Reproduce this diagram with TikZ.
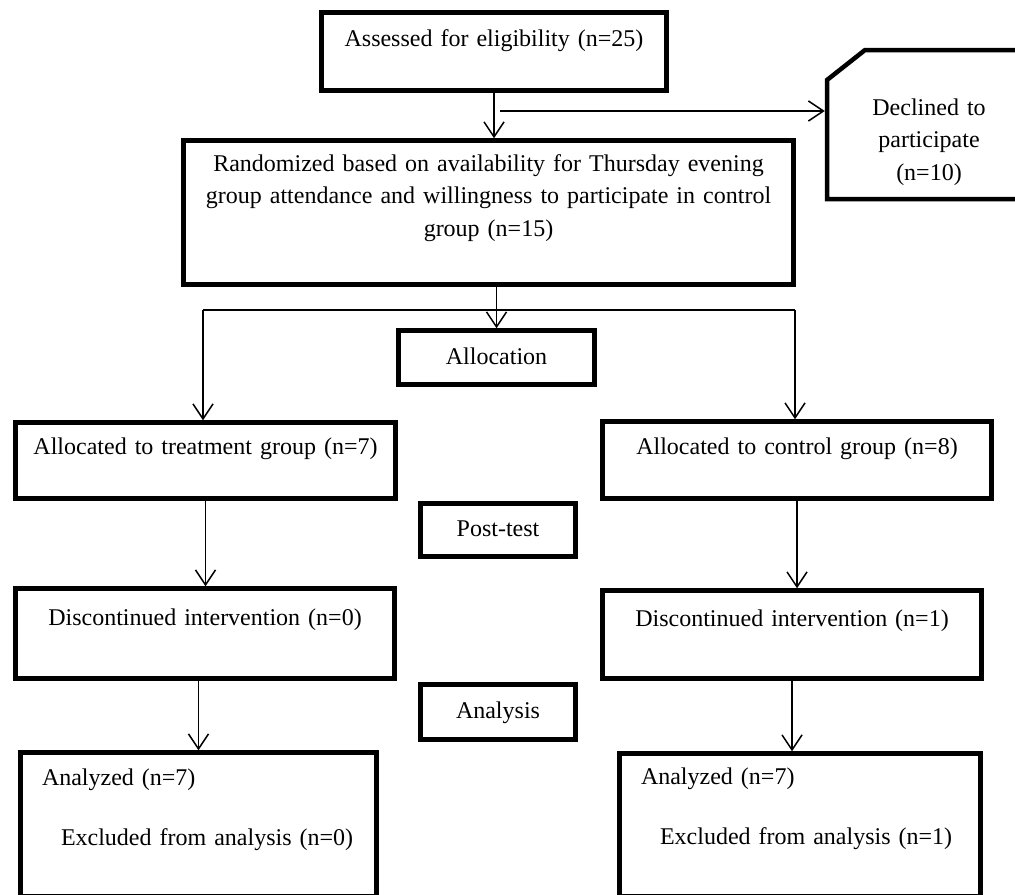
\documentclass[tikz,border=0pt]{standalone}
\usepackage{fontspec}
\setmainfont{Liberation Serif}
\usepackage{xcolor}
\usetikzlibrary{arrows.meta}

\begin{document}
\begin{tikzpicture}[x=0.5pt, y=-0.5pt]
        % ================= 样式定义 =================
        \tikzset{
            % 普通流程框:粗边框,文字居中
            block/.style={draw=black, line width=2.25pt, fill=white, inner sep=0pt, align=center, font=\fontsize{12}{16.25}\selectfont},
            % 切角框的文字部分(边框另画)
            cutblock/.style={block, draw=none, fill=none, outer sep=0pt},
            % 切角框的边框
            cutline/.style={draw=black, line width=2.25pt, line join=miter},
            % 文字左对齐的框
            leftblock/.style={block, align=left, inner xsep=10.75pt},
            % 带箭头的连线
            flow/.style={line width=0.75pt, black, -{Straight Barb[length=7.5pt, width=10pt]}},
            % 不带箭头的连线
            plainline/.style={line width=0.75pt, black}
        }

        \useasboundingbox (0,0) rectangle (1015,894);

        % ================= 1. 筛选与随机化 =================
        \node[block, text width=172.5pt, text height=16.75pt, text depth=22.25pt] (assess) at (494, 51.5) {Assessed for eligibility (n=25)};
        \node[block, text width=305pt, text height=15.25pt, text depth=56.75pt] (random) at (488.5, 212.5) {Randomized based on availability for Thursday evening\\group attendance and willingness to participate in control\\group (n=15)};
        \node[cutblock, text width=102pt, text height=32.5pt, text depth=42pt] (declined) at (929, 124.5) {Declined to\\participate\\(n=10)};
        % 左上角切掉一块
        \draw[cutline] (declined.south east) -- (declined.south west) -- ([yshift=-15pt]declined.north west) -- ([xshift=19pt]declined.north west) -- (declined.north east) -- cycle;

        % ================= 2. 分组 =================
        \node[block, text width=98pt, text height=16.75pt, text depth=10.25pt] (alloc) at (496.5, 357.5) {Allocation};
        \node[block, text width=190pt, text height=15.75pt, text depth=22.25pt] (treat) at (205.5, 460.5) {Allocated to treatment group (n=7)};
        \node[block, text width=194.5pt, text height=16.25pt, text depth=22.25pt] (ctrl) at (797, 460) {Allocated to control group (n=8)};

        % ================= 3. 后测 =================
        \node[block, text width=77.5pt, text height=16.25pt, text depth=10.25pt] (post) at (498, 530) {Post-test};
        \node[block, text width=189.5pt, text height=18.25pt, text depth=26.75pt] (discL) at (205, 633.5) {Discontinued intervention (n=0)};
        \node[block, text width=189.5pt, text height=17.75pt, text depth=26.25pt] (discR) at (792, 634.5) {Discontinued intervention (n=1)};

        % ================= 4. 分析 =================
        \node[block, text width=77.5pt, text height=16.75pt, text depth=10.75pt] (analysis) at (498, 712) {Analysis};
        \node[leftblock, text width=156.5pt, text height=16.25pt, text depth=55.5pt] (anaL) at (198.5, 824.25) {Analyzed (n=7)\\[13.75pt]\hspace*{9.5pt}Excluded from analysis (n=0)};
        \node[leftblock, text width=159pt, text height=15.25pt, text depth=56pt] (anaR) at (800, 824.75) {Analyzed (n=7)\\[13.75pt]\hspace*{9.5pt}Excluded from analysis (n=1)};

        % ================= 5. 连线 =================
        \coordinate (split) at (500, 111);
        \coordinate (forkL) at (203, 310);
        \coordinate (forkR) at (795, 310);

        \draw[flow] (assess.south) -- (assess.south |- random.north);
        \draw[flow] (split) -- ([xshift=-1.125pt]split -| declined.west);

        \draw[flow] (alloc.north |- random.south) -- (alloc.north);
        \draw[plainline] (forkL) -- (forkR);
        \draw[flow] (forkL) -- (forkL |- treat.north);
        \draw[flow] (forkR) -- (forkR |- ctrl.north);

        \draw[flow] (treat.south) -- (treat.south |- discL.north);
        \draw[flow] (ctrl.south) -- (ctrl.south |- discR.north);

        \draw[flow] (anaL.north |- discL.south) -- (anaL.north);
        \draw[flow] (discR.south) -- (discR.south |- anaR.north);

    \end{tikzpicture}
\end{document}
